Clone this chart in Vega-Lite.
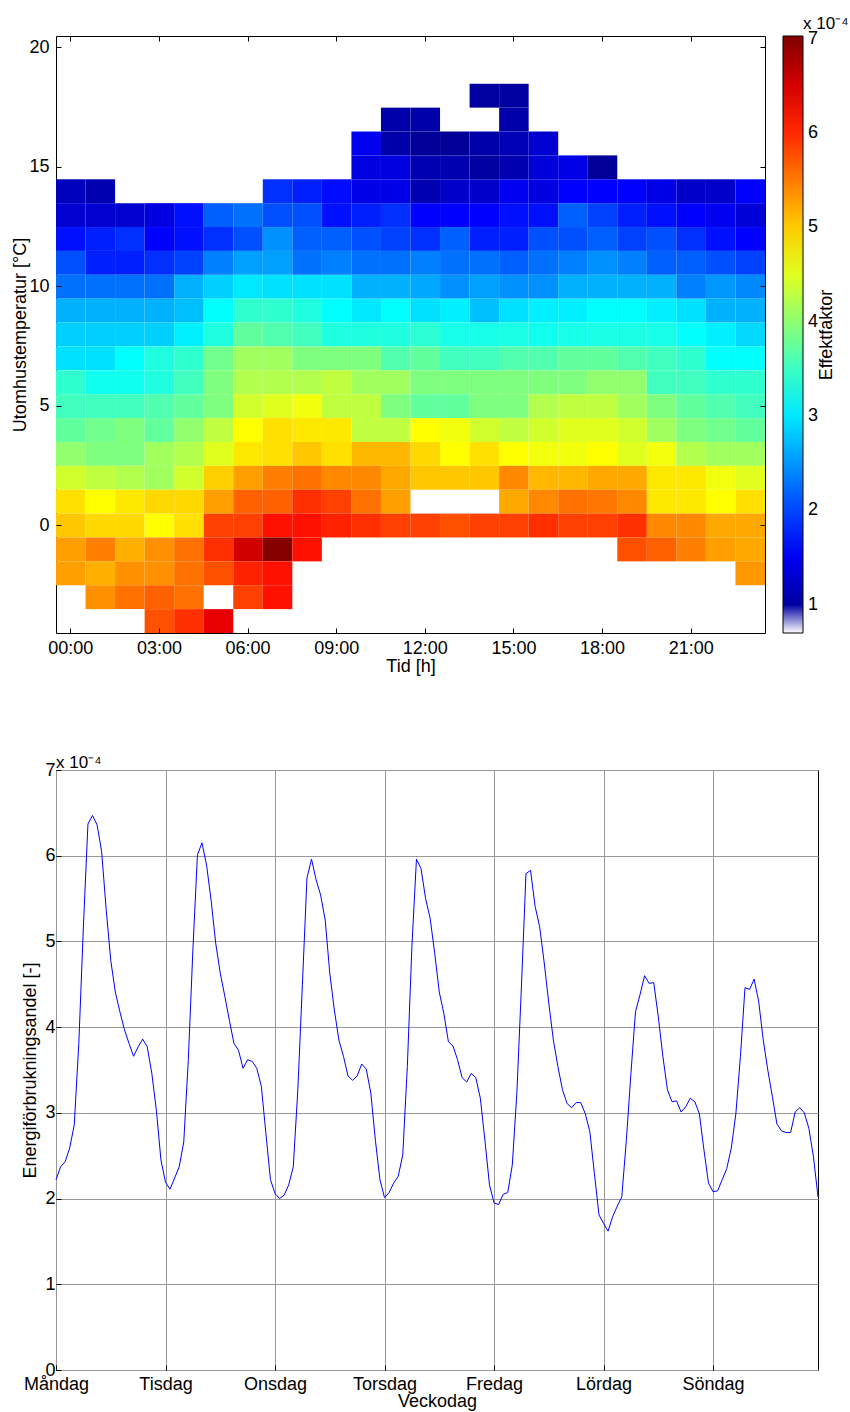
{
  "$schema": "https://vega.github.io/schema/vega-lite/v6.json",
  "background": "white",
  "padding": {"left": 11, "top": 14, "right": 5, "bottom": 5},
  "config": {
    "font": "Liberation Sans",
    "view": {"stroke": "#000000", "strokeWidth": 1},
    "axis": {"labelFontSize": 18, "titleFontSize": 18, "titleFontWeight": "normal", "labelColor": "#000000", "titleColor": "#000000", "domain": false, "tickColor": "#000000", "labelFont": "Liberation Sans", "titleFont": "Liberation Sans"},
    "legend": {"labelFont": "Liberation Sans", "titleFont": "Liberation Sans"},
    "title": {"font": "Liberation Sans"}
  },
  "resolve": {"legend": {"color": "independent"}, "scale": {"color": "independent"}},
  "datasets": {
    "heat": [
      {"h":14,"t":18,"e":1.00},{"h":15,"t":18,"e":1.00},
      {"h":11,"t":17,"e":1.06},{"h":12,"t":17,"e":1.05},{"h":15,"t":17,"e":1.05},
      {"h":10,"t":16,"e":1.48},{"h":11,"t":16,"e":1.06},{"h":12,"t":16,"e":0.95},{"h":13,"t":16,"e":0.95},{"h":14,"t":16,"e":1.05},{"h":15,"t":16,"e":1.14},{"h":16,"t":16,"e":1.29},
      {"h":10,"t":15,"e":1.39},{"h":11,"t":15,"e":1.39},{"h":12,"t":15,"e":1.10},{"h":13,"t":15,"e":1.10},{"h":14,"t":15,"e":1.00},{"h":15,"t":15,"e":1.10},{"h":16,"t":15,"e":1.34},{"h":17,"t":15,"e":1.44},{"h":18,"t":15,"e":0.95},
      {"h":0,"t":14,"e":1.19},{"h":1,"t":14,"e":1.10},{"h":7,"t":14,"e":1.87},{"h":8,"t":14,"e":1.77},{"h":9,"t":14,"e":1.65},{"h":10,"t":14,"e":1.44},{"h":11,"t":14,"e":1.44},{"h":12,"t":14,"e":1.10},{"h":13,"t":14,"e":1.24},{"h":14,"t":14,"e":1.24},{"h":15,"t":14,"e":1.49},{"h":16,"t":14,"e":1.39},{"h":17,"t":14,"e":1.58},{"h":18,"t":14,"e":1.58},{"h":19,"t":14,"e":1.58},{"h":20,"t":14,"e":1.44},{"h":21,"t":14,"e":1.24},{"h":22,"t":14,"e":1.24},{"h":23,"t":14,"e":1.58},
      {"h":0,"t":13,"e":1.29},{"h":1,"t":13,"e":1.29},{"h":2,"t":13,"e":1.29},{"h":3,"t":13,"e":1.39},{"h":4,"t":13,"e":1.68},{"h":5,"t":13,"e":2.17},{"h":6,"t":13,"e":2.27},{"h":7,"t":13,"e":2.07},{"h":8,"t":13,"e":2.07},{"h":9,"t":13,"e":1.68},{"h":10,"t":13,"e":1.77},{"h":11,"t":13,"e":1.87},{"h":12,"t":13,"e":1.58},{"h":13,"t":13,"e":1.58},{"h":14,"t":13,"e":1.58},{"h":15,"t":13,"e":1.68},{"h":16,"t":13,"e":1.68},{"h":17,"t":13,"e":2.17},{"h":18,"t":13,"e":1.97},{"h":19,"t":13,"e":1.77},{"h":20,"t":13,"e":1.68},{"h":21,"t":13,"e":1.58},{"h":22,"t":13,"e":1.49},{"h":23,"t":13,"e":1.34},
      {"h":0,"t":12,"e":1.68},{"h":1,"t":12,"e":1.77},{"h":2,"t":12,"e":1.87},{"h":3,"t":12,"e":1.58},{"h":4,"t":12,"e":1.68},{"h":5,"t":12,"e":1.87},{"h":6,"t":12,"e":2.07},{"h":7,"t":12,"e":2.46},{"h":8,"t":12,"e":2.17},{"h":9,"t":12,"e":2.17},{"h":10,"t":12,"e":2.07},{"h":11,"t":12,"e":1.97},{"h":12,"t":12,"e":1.87},{"h":13,"t":12,"e":2.17},{"h":14,"t":12,"e":1.77},{"h":15,"t":12,"e":1.77},{"h":16,"t":12,"e":2.07},{"h":17,"t":12,"e":2.07},{"h":18,"t":12,"e":2.17},{"h":19,"t":12,"e":1.97},{"h":20,"t":12,"e":2.07},{"h":21,"t":12,"e":1.87},{"h":22,"t":12,"e":1.68},{"h":23,"t":12,"e":1.58},
      {"h":0,"t":11,"e":2.07},{"h":1,"t":11,"e":1.77},{"h":2,"t":11,"e":1.77},{"h":3,"t":11,"e":1.87},{"h":4,"t":11,"e":1.97},{"h":5,"t":11,"e":2.36},{"h":6,"t":11,"e":2.56},{"h":7,"t":11,"e":2.56},{"h":8,"t":11,"e":2.27},{"h":9,"t":11,"e":2.36},{"h":10,"t":11,"e":2.27},{"h":11,"t":11,"e":2.27},{"h":12,"t":11,"e":2.36},{"h":13,"t":11,"e":2.27},{"h":14,"t":11,"e":2.27},{"h":15,"t":11,"e":2.17},{"h":16,"t":11,"e":2.27},{"h":17,"t":11,"e":2.36},{"h":18,"t":11,"e":2.46},{"h":19,"t":11,"e":2.36},{"h":20,"t":11,"e":2.17},{"h":21,"t":11,"e":2.17},{"h":22,"t":11,"e":2.07},{"h":23,"t":11,"e":1.97},
      {"h":0,"t":10,"e":2.27},{"h":1,"t":10,"e":2.27},{"h":2,"t":10,"e":2.27},{"h":3,"t":10,"e":2.27},{"h":4,"t":10,"e":2.66},{"h":5,"t":10,"e":2.85},{"h":6,"t":10,"e":3.00},{"h":7,"t":10,"e":2.95},{"h":8,"t":10,"e":2.95},{"h":9,"t":10,"e":2.95},{"h":10,"t":10,"e":2.66},{"h":11,"t":10,"e":2.66},{"h":12,"t":10,"e":2.61},{"h":13,"t":10,"e":2.46},{"h":14,"t":10,"e":2.56},{"h":15,"t":10,"e":2.46},{"h":16,"t":10,"e":2.46},{"h":17,"t":10,"e":2.66},{"h":18,"t":10,"e":2.66},{"h":19,"t":10,"e":2.66},{"h":20,"t":10,"e":2.66},{"h":21,"t":10,"e":2.36},{"h":22,"t":10,"e":2.51},{"h":23,"t":10,"e":2.41},
      {"h":0,"t":9,"e":2.66},{"h":1,"t":9,"e":2.66},{"h":2,"t":9,"e":2.66},{"h":3,"t":9,"e":2.66},{"h":4,"t":9,"e":2.75},{"h":5,"t":9,"e":3.14},{"h":6,"t":9,"e":3.43},{"h":7,"t":9,"e":3.43},{"h":8,"t":9,"e":3.33},{"h":9,"t":9,"e":3.14},{"h":10,"t":9,"e":3.00},{"h":11,"t":9,"e":3.14},{"h":12,"t":9,"e":2.95},{"h":13,"t":9,"e":3.05},{"h":14,"t":9,"e":2.75},{"h":15,"t":9,"e":2.95},{"h":16,"t":9,"e":3.05},{"h":17,"t":9,"e":3.05},{"h":18,"t":9,"e":3.14},{"h":19,"t":9,"e":3.14},{"h":20,"t":9,"e":3.05},{"h":21,"t":9,"e":2.95},{"h":22,"t":9,"e":2.66},{"h":23,"t":9,"e":2.66},
      {"h":0,"t":8,"e":2.85},{"h":1,"t":8,"e":2.85},{"h":2,"t":8,"e":2.85},{"h":3,"t":8,"e":2.85},{"h":4,"t":8,"e":3.05},{"h":5,"t":8,"e":3.33},{"h":6,"t":8,"e":3.73},{"h":7,"t":8,"e":3.63},{"h":8,"t":8,"e":3.53},{"h":9,"t":8,"e":3.33},{"h":10,"t":8,"e":3.33},{"h":11,"t":8,"e":3.33},{"h":12,"t":8,"e":3.40},{"h":13,"t":8,"e":3.28},{"h":14,"t":8,"e":3.28},{"h":15,"t":8,"e":3.30},{"h":16,"t":8,"e":3.24},{"h":17,"t":8,"e":3.28},{"h":18,"t":8,"e":3.30},{"h":19,"t":8,"e":3.30},{"h":20,"t":8,"e":3.28},{"h":21,"t":8,"e":3.14},{"h":22,"t":8,"e":3.05},{"h":23,"t":8,"e":2.90},
      {"h":0,"t":7,"e":2.95},{"h":1,"t":7,"e":2.95},{"h":2,"t":7,"e":3.14},{"h":3,"t":7,"e":3.33},{"h":4,"t":7,"e":3.43},{"h":5,"t":7,"e":3.83},{"h":6,"t":7,"e":4.12},{"h":7,"t":7,"e":4.12},{"h":8,"t":7,"e":3.92},{"h":9,"t":7,"e":3.92},{"h":10,"t":7,"e":3.92},{"h":11,"t":7,"e":3.63},{"h":12,"t":7,"e":3.73},{"h":13,"t":7,"e":3.53},{"h":14,"t":7,"e":3.53},{"h":15,"t":7,"e":3.63},{"h":16,"t":7,"e":3.63},{"h":17,"t":7,"e":3.73},{"h":18,"t":7,"e":3.73},{"h":19,"t":7,"e":3.63},{"h":20,"t":7,"e":3.53},{"h":21,"t":7,"e":3.43},{"h":22,"t":7,"e":3.14},{"h":23,"t":7,"e":3.14},
      {"h":0,"t":6,"e":3.43},{"h":1,"t":6,"e":3.24},{"h":2,"t":6,"e":3.24},{"h":3,"t":6,"e":3.33},{"h":4,"t":6,"e":3.53},{"h":5,"t":6,"e":3.92},{"h":6,"t":6,"e":4.22},{"h":7,"t":6,"e":4.22},{"h":8,"t":6,"e":4.22},{"h":9,"t":6,"e":4.31},{"h":10,"t":6,"e":4.12},{"h":11,"t":6,"e":4.12},{"h":12,"t":6,"e":3.92},{"h":13,"t":6,"e":3.92},{"h":14,"t":6,"e":3.92},{"h":15,"t":6,"e":3.92},{"h":16,"t":6,"e":3.92},{"h":17,"t":6,"e":3.92},{"h":18,"t":6,"e":4.02},{"h":19,"t":6,"e":4.02},{"h":20,"t":6,"e":3.53},{"h":21,"t":6,"e":3.53},{"h":22,"t":6,"e":3.43},{"h":23,"t":6,"e":3.43},
      {"h":0,"t":5,"e":3.53},{"h":1,"t":5,"e":3.53},{"h":2,"t":5,"e":3.53},{"h":3,"t":5,"e":3.63},{"h":4,"t":5,"e":3.73},{"h":5,"t":5,"e":3.92},{"h":6,"t":5,"e":4.41},{"h":7,"t":5,"e":4.51},{"h":8,"t":5,"e":4.61},{"h":9,"t":5,"e":4.31},{"h":10,"t":5,"e":4.31},{"h":11,"t":5,"e":3.92},{"h":12,"t":5,"e":3.73},{"h":13,"t":5,"e":3.73},{"h":14,"t":5,"e":3.92},{"h":15,"t":5,"e":3.92},{"h":16,"t":5,"e":4.22},{"h":17,"t":5,"e":4.31},{"h":18,"t":5,"e":4.31},{"h":19,"t":5,"e":4.12},{"h":20,"t":5,"e":3.92},{"h":21,"t":5,"e":3.73},{"h":22,"t":5,"e":3.63},{"h":23,"t":5,"e":3.53},
      {"h":0,"t":4,"e":3.73},{"h":1,"t":4,"e":3.83},{"h":2,"t":4,"e":3.92},{"h":3,"t":4,"e":3.73},{"h":4,"t":4,"e":4.02},{"h":5,"t":4,"e":4.31},{"h":6,"t":4,"e":4.69},{"h":7,"t":4,"e":4.88},{"h":8,"t":4,"e":4.83},{"h":9,"t":4,"e":4.83},{"h":10,"t":4,"e":4.31},{"h":11,"t":4,"e":4.31},{"h":12,"t":4,"e":4.69},{"h":13,"t":4,"e":4.61},{"h":14,"t":4,"e":4.41},{"h":15,"t":4,"e":4.31},{"h":16,"t":4,"e":4.41},{"h":17,"t":4,"e":4.51},{"h":18,"t":4,"e":4.51},{"h":19,"t":4,"e":4.41},{"h":20,"t":4,"e":4.12},{"h":21,"t":4,"e":3.92},{"h":22,"t":4,"e":3.83},{"h":23,"t":4,"e":3.73},
      {"h":0,"t":3,"e":4.02},{"h":1,"t":3,"e":3.92},{"h":2,"t":3,"e":3.92},{"h":3,"t":3,"e":4.12},{"h":4,"t":3,"e":4.22},{"h":5,"t":3,"e":4.51},{"h":6,"t":3,"e":4.83},{"h":7,"t":3,"e":4.88},{"h":8,"t":3,"e":5.03},{"h":9,"t":3,"e":4.88},{"h":10,"t":3,"e":5.13},{"h":11,"t":3,"e":5.13},{"h":12,"t":3,"e":4.93},{"h":13,"t":3,"e":4.69},{"h":14,"t":3,"e":4.88},{"h":15,"t":3,"e":4.69},{"h":16,"t":3,"e":4.61},{"h":17,"t":3,"e":4.61},{"h":18,"t":3,"e":4.69},{"h":19,"t":3,"e":4.51},{"h":20,"t":3,"e":4.61},{"h":21,"t":3,"e":4.22},{"h":22,"t":3,"e":4.12},{"h":23,"t":3,"e":4.12},
      {"h":0,"t":2,"e":4.41},{"h":1,"t":2,"e":4.31},{"h":2,"t":2,"e":4.22},{"h":3,"t":2,"e":4.12},{"h":4,"t":2,"e":4.41},{"h":5,"t":2,"e":4.98},{"h":6,"t":2,"e":5.27},{"h":7,"t":2,"e":5.47},{"h":8,"t":2,"e":5.56},{"h":9,"t":2,"e":5.42},{"h":10,"t":2,"e":5.42},{"h":11,"t":2,"e":5.22},{"h":12,"t":2,"e":5.03},{"h":13,"t":2,"e":5.03},{"h":14,"t":2,"e":5.03},{"h":15,"t":2,"e":5.42},{"h":16,"t":2,"e":5.13},{"h":17,"t":2,"e":5.13},{"h":18,"t":2,"e":5.22},{"h":19,"t":2,"e":5.22},{"h":20,"t":2,"e":4.83},{"h":21,"t":2,"e":4.83},{"h":22,"t":2,"e":4.61},{"h":23,"t":2,"e":4.51},
      {"h":0,"t":1,"e":4.88},{"h":1,"t":1,"e":4.69},{"h":2,"t":1,"e":4.83},{"h":3,"t":1,"e":4.93},{"h":4,"t":1,"e":4.93},{"h":5,"t":1,"e":5.27},{"h":6,"t":1,"e":5.66},{"h":7,"t":1,"e":5.66},{"h":8,"t":1,"e":5.96},{"h":9,"t":1,"e":5.86},{"h":10,"t":1,"e":5.56},{"h":11,"t":1,"e":5.27},{"h":15,"t":1,"e":5.22},{"h":16,"t":1,"e":5.42},{"h":17,"t":1,"e":5.56},{"h":18,"t":1,"e":5.52},{"h":19,"t":1,"e":5.42},{"h":20,"t":1,"e":4.83},{"h":21,"t":1,"e":4.83},{"h":22,"t":1,"e":4.69},{"h":23,"t":1,"e":4.88},
      {"h":0,"t":0,"e":5.03},{"h":1,"t":0,"e":4.93},{"h":2,"t":0,"e":4.93},{"h":3,"t":0,"e":4.69},{"h":4,"t":0,"e":4.88},{"h":5,"t":0,"e":5.86},{"h":6,"t":0,"e":5.86},{"h":7,"t":0,"e":6.15},{"h":8,"t":0,"e":6.15},{"h":9,"t":0,"e":6.05},{"h":10,"t":0,"e":5.96},{"h":11,"t":0,"e":5.86},{"h":12,"t":0,"e":5.86},{"h":13,"t":0,"e":5.76},{"h":14,"t":0,"e":5.86},{"h":15,"t":0,"e":5.86},{"h":16,"t":0,"e":5.96},{"h":17,"t":0,"e":5.86},{"h":18,"t":0,"e":5.86},{"h":19,"t":0,"e":5.96},{"h":20,"t":0,"e":5.42},{"h":21,"t":0,"e":5.42},{"h":22,"t":0,"e":5.22},{"h":23,"t":0,"e":5.22},
      {"h":0,"t":-1,"e":5.27},{"h":1,"t":-1,"e":5.47},{"h":2,"t":-1,"e":5.18},{"h":3,"t":-1,"e":5.37},{"h":4,"t":-1,"e":5.56},{"h":5,"t":-1,"e":5.96},{"h":6,"t":-1,"e":6.54},{"h":7,"t":-1,"e":7.00},{"h":8,"t":-1,"e":6.15},{"h":19,"t":-1,"e":5.76},{"h":20,"t":-1,"e":5.66},{"h":21,"t":-1,"e":5.47},{"h":22,"t":-1,"e":5.27},{"h":23,"t":-1,"e":5.22},
      {"h":0,"t":-2,"e":5.27},{"h":1,"t":-2,"e":5.18},{"h":2,"t":-2,"e":5.37},{"h":3,"t":-2,"e":5.37},{"h":4,"t":-2,"e":5.56},{"h":5,"t":-2,"e":5.76},{"h":6,"t":-2,"e":6.05},{"h":7,"t":-2,"e":6.15},{"h":23,"t":-2,"e":5.32},
      {"h":1,"t":-3,"e":5.37},{"h":2,"t":-3,"e":5.56},{"h":3,"t":-3,"e":5.66},{"h":4,"t":-3,"e":5.56},{"h":6,"t":-3,"e":5.86},{"h":7,"t":-3,"e":6.15},
      {"h":3,"t":-4,"e":5.76},{"h":4,"t":-4,"e":5.96},{"h":5,"t":-4,"e":6.39}
    ],
    "line": [
      {"i":1,"v":2.22},{"i":2,"v":2.37},{"i":3,"v":2.43},{"i":4,"v":2.59},{"i":5,"v":2.86},{"i":6,"v":3.81},{"i":7,"v":5.17},{"i":8,"v":6.37},{"i":9,"v":6.47},{"i":10,"v":6.36},{"i":11,"v":6.05},{"i":12,"v":5.37},{"i":13,"v":4.78},{"i":14,"v":4.41},{"i":15,"v":4.18},{"i":16,"v":3.97},{"i":17,"v":3.81},{"i":18,"v":3.66},{"i":19,"v":3.77},{"i":20,"v":3.86},{"i":21,"v":3.77},{"i":22,"v":3.46},{"i":23,"v":3.03},{"i":24,"v":2.45},
      {"i":25,"v":2.19},{"i":26,"v":2.11},{"i":27,"v":2.24},{"i":28,"v":2.37},{"i":29,"v":2.66},{"i":30,"v":3.62},{"i":31,"v":4.90},{"i":32,"v":6.01},{"i":33,"v":6.15},{"i":34,"v":5.89},{"i":35,"v":5.48},{"i":36,"v":4.98},{"i":37,"v":4.63},{"i":38,"v":4.36},{"i":39,"v":4.08},{"i":40,"v":3.81},{"i":41,"v":3.73},{"i":42,"v":3.52},{"i":43,"v":3.62},{"i":44,"v":3.60},{"i":45,"v":3.52},{"i":46,"v":3.31},{"i":47,"v":2.76},{"i":48,"v":2.22},
      {"i":49,"v":2.06},{"i":50,"v":2.00},{"i":51,"v":2.04},{"i":52,"v":2.16},{"i":53,"v":2.37},{"i":54,"v":3.27},{"i":55,"v":4.50},{"i":56,"v":5.74},{"i":57,"v":5.96},{"i":58,"v":5.72},{"i":59,"v":5.54},{"i":60,"v":5.25},{"i":61,"v":4.63},{"i":62,"v":4.20},{"i":63,"v":3.85},{"i":64,"v":3.66},{"i":65,"v":3.43},{"i":66,"v":3.38},{"i":67,"v":3.43},{"i":68,"v":3.57},{"i":69,"v":3.51},{"i":70,"v":3.23},{"i":71,"v":2.68},{"i":72,"v":2.22},
      {"i":73,"v":2.01},{"i":74,"v":2.07},{"i":75,"v":2.18},{"i":76,"v":2.26},{"i":77,"v":2.51},{"i":78,"v":3.54},{"i":79,"v":4.94},{"i":80,"v":5.96},{"i":81,"v":5.85},{"i":82,"v":5.50},{"i":83,"v":5.27},{"i":84,"v":4.86},{"i":85,"v":4.41},{"i":86,"v":4.16},{"i":87,"v":3.83},{"i":88,"v":3.78},{"i":89,"v":3.62},{"i":90,"v":3.41},{"i":91,"v":3.36},{"i":92,"v":3.46},{"i":93,"v":3.41},{"i":94,"v":3.17},{"i":95,"v":2.68},{"i":96,"v":2.16},
      {"i":97,"v":1.95},{"i":98,"v":1.93},{"i":99,"v":2.05},{"i":100,"v":2.07},{"i":101,"v":2.39},{"i":102,"v":3.23},{"i":103,"v":4.47},{"i":104,"v":5.79},{"i":105,"v":5.83},{"i":106,"v":5.41},{"i":107,"v":5.17},{"i":108,"v":4.75},{"i":109,"v":4.28},{"i":110,"v":3.85},{"i":111,"v":3.54},{"i":112,"v":3.27},{"i":113,"v":3.11},{"i":114,"v":3.06},{"i":115,"v":3.12},{"i":116,"v":3.12},{"i":117,"v":2.99},{"i":118,"v":2.78},{"i":119,"v":2.29},{"i":120,"v":1.81},
      {"i":121,"v":1.71},{"i":122,"v":1.62},{"i":123,"v":1.79},{"i":124,"v":1.91},{"i":125,"v":2.02},{"i":126,"v":2.68},{"i":127,"v":3.46},{"i":128,"v":4.18},{"i":129,"v":4.38},{"i":130,"v":4.60},{"i":131,"v":4.51},{"i":132,"v":4.52},{"i":133,"v":4.12},{"i":134,"v":3.66},{"i":135,"v":3.27},{"i":136,"v":3.13},{"i":137,"v":3.14},{"i":138,"v":3.01},{"i":139,"v":3.07},{"i":140,"v":3.17},{"i":141,"v":3.13},{"i":142,"v":2.99},{"i":143,"v":2.57},{"i":144,"v":2.18},
      {"i":145,"v":2.08},{"i":146,"v":2.09},{"i":147,"v":2.22},{"i":148,"v":2.35},{"i":149,"v":2.59},{"i":150,"v":2.99},{"i":151,"v":3.66},{"i":152,"v":4.46},{"i":153,"v":4.44},{"i":154,"v":4.56},{"i":155,"v":4.30},{"i":156,"v":3.85},{"i":157,"v":3.50},{"i":158,"v":3.19},{"i":159,"v":2.87},{"i":160,"v":2.79},{"i":161,"v":2.77},{"i":162,"v":2.77},{"i":163,"v":3.01},{"i":164,"v":3.06},{"i":165,"v":3.00},{"i":166,"v":2.82},{"i":167,"v":2.49},{"i":168,"v":2.02}
    ]
  },
  "spacing": 77,
  "vconcat": [
    {
      "width": 709,
      "height": 597,
      "title": {"text": "x 10⁻⁴", "anchor": "start", "frame": "group", "dx": 747, "offset": -10, "fontSize": 17, "fontWeight": "normal", "baseline": "alphabetic", "color": "#000000"},
      "data": {"name": "heat"},
      "layer": [
        {
          "mark": {"type": "rect"},
          "encoding": {
            "x": {
              "field": "h", "type": "ordinal",
              "scale": {"domain": [0,1,2,3,4,5,6,7,8,9,10,11,12,13,14,15,16,17,18,19,20,21,22,23], "paddingInner": 0, "paddingOuter": 0},
              "axis": {"orient": "bottom", "values": [0,3,6,9,12,15,18,21], "labelExpr": "(datum.value < 10 ? '0' : '') + datum.value + ':00'", "labelAngle": 0, "title": "Tid [h]", "tickSize": -5, "labelPadding": 11, "titlePadding": 0, "bandPosition": 0.5, "grid": false}
            },
            "y": {
              "field": "t", "type": "ordinal",
              "scale": {"domain": [20,19,18,17,16,15,14,13,12,11,10,9,8,7,6,5,4,3,2,1,0,-1,-2,-3,-4], "paddingInner": 0, "paddingOuter": 0},
              "axis": {"orient": "left", "values": [0,5,10,15,20], "title": "Utomhustemperatur [°C]", "tickSize": -5, "labelPadding": 12, "titlePadding": -1, "bandPosition": 0.5, "grid": false}
            },
            "color": {
              "field": "e", "type": "quantitative",
              "scale": {"domain": [0.70, 0.799, 0.80, 1.58, 3.14, 4.69, 6.25, 7.03], "range": ["#ffffff", "#ffffff", "#000080", "#0000ff", "#00ffff", "#ffff00", "#ff0000", "#800000"], "interpolate": "rgb"},
              "legend": {"type": "gradient", "direction": "vertical", "orient": "right", "offset": 17, "gradientLength": 597, "gradientThickness": 20, "gradientStrokeColor": "#000000", "gradientStrokeWidth": 1, "values": [1,2,3,4,5,6,7], "format": "d", "labelFontSize": 18, "labelColor": "#000000", "labelOffset": 5, "labelOverlap": false, "title": "Effektfaktor", "titleOrient": "right", "titleFontSize": 18, "titleFontWeight": "normal", "titleColor": "#000000", "titleAnchor": "middle", "titlePadding": 0,
                "encode": {"title": {"update": {"angle": {"value": 270}, "baseline": {"value": "top"}}}}}
            }
          }
        },
        {
          "mark": {"type": "rect", "opacity": 0},
          "encoding": {
            "x": {
              "field": "h", "type": "ordinal",
              "scale": {"domain": [0,1,2,3,4,5,6,7,8,9,10,11,12,13,14,15,16,17,18,19,20,21,22,23], "paddingInner": 0, "paddingOuter": 0},
              "axis": {"orient": "top", "values": [0,3,6,9,12,15,18,21], "labels": false, "title": null, "tickSize": -5, "bandPosition": 0.5, "grid": false}
            },
            "y": {
              "field": "t", "type": "ordinal",
              "scale": {"domain": [20,19,18,17,16,15,14,13,12,11,10,9,8,7,6,5,4,3,2,1,0,-1,-2,-3,-4], "paddingInner": 0, "paddingOuter": 0},
              "axis": {"orient": "right", "values": [0,5,10,15,20], "labels": false, "title": null, "tickSize": -5, "bandPosition": 0.5, "grid": false}
            }
          }
        }
      ],
      "resolve": {"axis": {"x": "independent", "y": "independent"}}
    },
    {
      "width": 762,
      "height": 600,
      "title": {"text": "x 10⁻⁴", "anchor": "start", "frame": "group", "offset": -24, "fontSize": 17, "fontWeight": "normal", "baseline": "alphabetic", "color": "#000000"},
      "data": {"name": "line"},
      "mark": {"type": "line", "color": "#0000ff", "strokeWidth": 1},
      "encoding": {
        "x": {
          "field": "i", "type": "quantitative",
          "scale": {"domain": [1, 168], "nice": false, "zero": false},
          "axis": {"values": [1,25,49,73,97,121,145], "labelExpr": "['Måndag','Tisdag','Onsdag','Torsdag','Fredag','Lördag','Söndag'][floor((datum.value - 1) / 24)]", "title": "Veckodag", "grid": true, "gridColor": "#999999", "gridWidth": 1, "tickSize": -5, "labelPadding": 10, "titlePadding": -1, "labelFlush": false}
        },
        "y": {
          "field": "v", "type": "quantitative",
          "scale": {"domain": [0, 7], "nice": false, "zero": true},
          "axis": {"values": [0,1,2,3,4,5,6,7], "title": "Energiförbrukningsandel [-]", "grid": true, "gridColor": "#999999", "gridWidth": 1, "tickSize": -5, "labelPadding": 6, "titlePadding": 5, "labelFlush": false}
        }
      }
    }
  ]
}
